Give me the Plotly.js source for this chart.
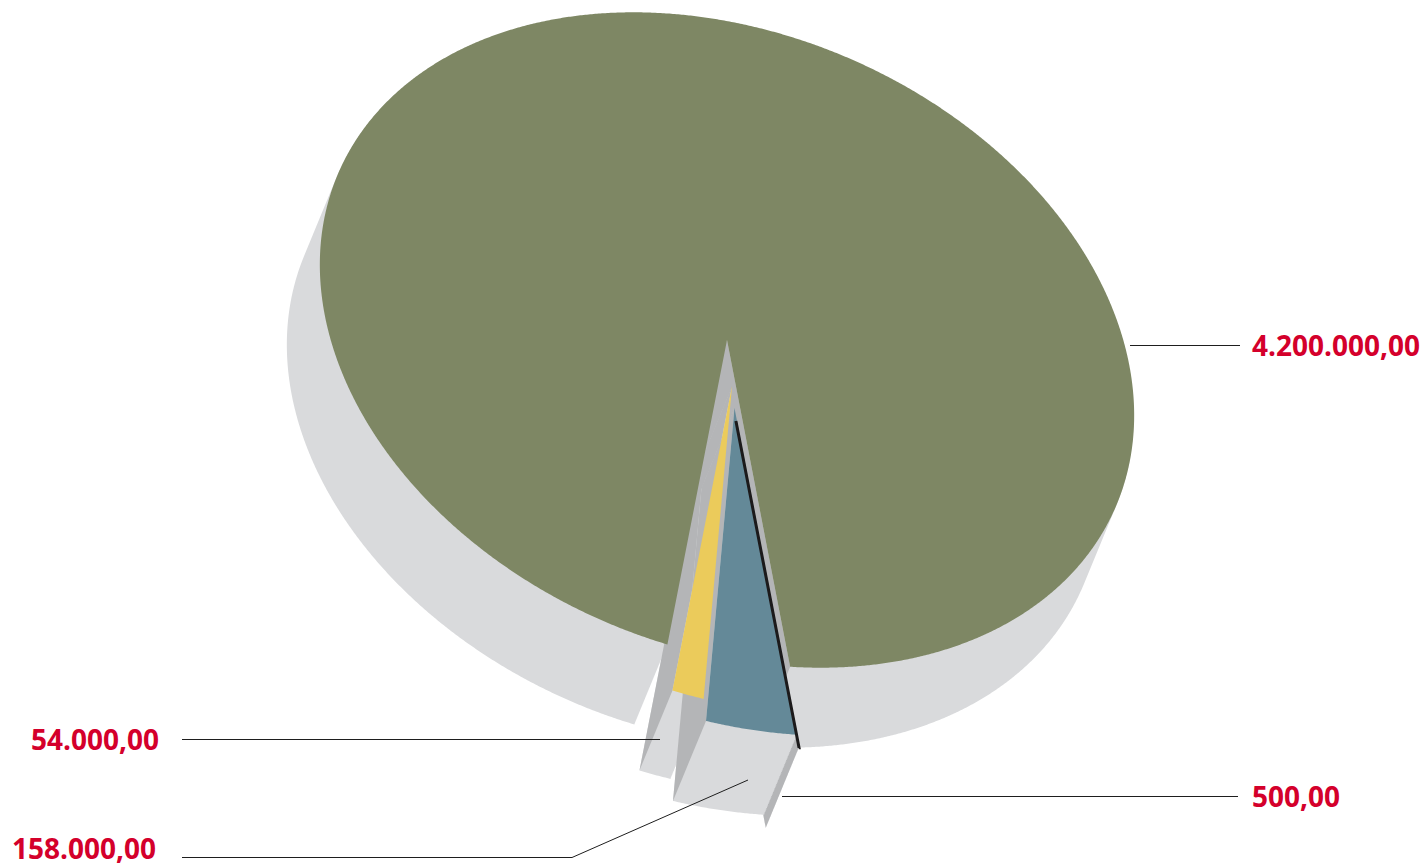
<!DOCTYPE html>
<html><head><meta charset="utf-8">
<script src="https://cdn.plot.ly/plotly-3.0.1.min.js"></script>
<style>html,body{margin:0;padding:0;background:#fff;overflow:hidden}#chart{width:1425px;height:867px}</style>
</head><body><div id="chart"></div>
<script>
// ---- data ----
const sliceNames   = ['black', 'blue', 'yellow', 'green'];
const sliceValues  = [500, 158000, 54000, 4200000];
const sliceColors  = ['#1c1a1b', '#648998', '#ebcb5b', '#7e8764'];

// ---- style / geometry ----
const EXPLODE_DIR  = [0.11, 1];
const EXPLODE_DIST = [81, 68, 46, 0];
const EDGE_WIDTH   = [3, 0, 0, 0];
const W = 1425, H = 867;
const cx = 727, cy = 340, A = 423, B = 307, ROT = 23.2 * Math.PI / 180;
const DEPTH = [-33, 80];
const START_DEG = 63.8;
const LIGHT = '#d9dadc', MID = '#b4b5b7';

function fmt(v) {
  const parts = v.toFixed(2).split('.');
  return parts[0].replace(/\B(?=(\d{3})+(?!\d))/g, '.') + ',' + parts[1];
}
function pt(phi, off) {
  const t = phi * Math.PI / 180, p = A * Math.cos(t), q = B * Math.sin(t);
  return [cx + off[0] + p * Math.cos(ROT) - q * Math.sin(ROT),
          cy + off[1] + p * Math.sin(ROT) + q * Math.cos(ROT)];
}
const total = sliceValues.reduce((s, v) => s + v, 0);
let acc = START_DEG;
const slices = sliceValues.map((v, i) => {
  const span = v / total * 360, p0 = acc, p1 = acc + span; acc = p1;
  const off = [EXPLODE_DIR[0] * EXPLODE_DIST[i], EXPLODE_DIR[1] * EXPLODE_DIST[i]];
  const n = Math.max(2, Math.ceil(span / 0.25));
  const poly = [[cx + off[0], cy + off[1]]];
  for (let k = 0; k <= n; k++) poly.push(pt(p0 + span * k / n, off));
  return {i, poly, off, p0, p1};
});

function polyTrace(polys, color, lw, lc) {
  const x = [], y = [];
  polys.forEach((pl, j) => {
    if (j) { x.push(null); y.push(null); }
    pl.forEach(p => { x.push(p[0]); y.push(p[1]); });
  });
  return {type: 'scatter', mode: 'lines', x, y, fill: 'toself', fillcolor: color,
          line: {width: lw || 0, color: lc || color, simplify: false},
          hoverinfo: 'skip', showlegend: false};
}
function shiftPoly(pl, dx, dy) { return pl.map(p => [p[0] + dx, p[1] + dy]); }
function sweepTrace(s) {
  const N = 60, out = [];
  for (let k = N; k >= 1; k--) out.push(shiftPoly(s.poly, DEPTH[0] * k / N, DEPTH[1] * k / N));
  return polyTrace(out, LIGHT);
}
function faceTrace(s) {
  const apex = s.poly[0], out = [];
  const ends = [s.poly[1], s.poly[s.poly.length - 1]];
  const inside = pt((s.p0 + s.p1) / 2, s.off);
  ends.forEach(end => {
    const ex = end[0] - apex[0], ey = end[1] - apex[1];
    const cd = ex * DEPTH[1] - ey * DEPTH[0];
    const ci = ex * (inside[1] - apex[1]) - ey * (inside[0] - apex[0]);
    if (cd * ci < 0) out.push([apex, end, [end[0] + DEPTH[0], end[1] + DEPTH[1]], [apex[0] + DEPTH[0], apex[1] + DEPTH[1]]]);
  });
  return polyTrace(out, MID);
}
function topTrace(s) { return polyTrace([s.poly], sliceColors[s.i], EDGE_WIDTH[s.i], sliceColors[s.i]); }

const big = slices[3];
const small = [slices[0], slices[2], slices[1]];
const traces = [sweepTrace(big), faceTrace(big)];
small.forEach(s => { traces.push(sweepTrace(s)); traces.push(faceTrace(s)); });
traces.push(topTrace(big));
[slices[2], slices[1], slices[0]].forEach(s => traces.push(topTrace(s)));

const labelFont = {family: 'Open Sans', size: 28, color: '#d4002b', weight: 700};
const annotations = [
  {x: 1250, y: 345, xanchor: 'left', text: fmt(sliceValues[3])},
  {x: 1250, y: 796, xanchor: 'left', text: fmt(sliceValues[0])},
  {x: 161, y: 739, xanchor: 'right', text: fmt(sliceValues[2])},
  {x: 158, y: 848, xanchor: 'right', text: fmt(sliceValues[1])}
].map(a => Object.assign({xref: 'x', yref: 'y', yanchor: 'middle', showarrow: false, font: labelFont}, a));

const ln = {color: '#1e1e1e', width: 1};
const shapes = [
  [1130, 345.5, 1240, 345.5], [782, 796.5, 1238, 796.5], [182, 739.5, 660, 739.5],
  [182, 857.5, 572, 857.5], [572, 857.5, 748, 780]
].map(c => ({type: 'line', xref: 'x', yref: 'y', x0: c[0], y0: c[1], x1: c[2], y1: c[3], line: ln}));

Plotly.newPlot('chart', traces, {
  width: W, height: H, margin: {l: 0, r: 0, t: 0, b: 0},
  paper_bgcolor: '#fff', plot_bgcolor: '#fff', showlegend: false,
  xaxis: {range: [0, W], visible: false, fixedrange: true},
  yaxis: {range: [H, 0], visible: false, fixedrange: true},
  annotations, shapes
}, {displayModeBar: false, staticPlot: true});
</script></body></html>
